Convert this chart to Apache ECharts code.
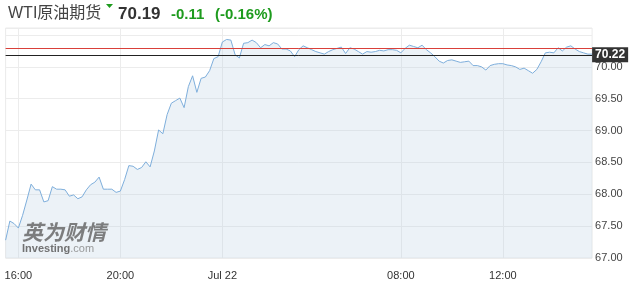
<!DOCTYPE html>
<html>
<head>
<meta charset="utf-8">
<script src="https://cdn.jsdelivr.net/npm/echarts@6/dist/echarts.min.js"></script>
<style>
html,body{margin:0;padding:0;background:#fff;}
#chart{width:635px;height:294px;}
</style>
</head>
<body>
<div id="chart"></div>
<script>
// ---- data ----
// 10-minute bars, 15:30 -> 04:50 then 06:00 -> 15:30 (daily trading break removed)
function buildTimes(){
  var out = [];
  var h = 15, m = 30;
  while (true) {
    out.push((h<10?'0':'')+h+':'+(m<10?'0':'')+m);
    if (h === 4 && m === 50) break;
    m += 10; if (m >= 60) { m = 0; h = (h + 1) % 24; }
  }
  h = 6; m = 0;
  while (true) {
    out.push((h<10?'0':'')+h+':'+(m<10?'0':'')+m);
    if (h === 15 && m === 30) break;
    m += 10; if (m >= 60) { m = 0; h += 1; }
  }
  return out;
}
var categories = buildTimes();

var prices = [
  67.28, 67.58, 67.54, 67.47, 67.67, 67.91, 68.16, 68.07, 68.07, 67.88,
  67.90, 68.12, 68.08, 68.08, 68.07, 67.97, 67.99, 67.93, 67.96, 68.07,
  68.15, 68.19, 68.27, 68.08, 68.08, 68.08, 68.03, 68.05, 68.23, 68.45,
  68.44, 68.39, 68.42, 68.51, 68.43, 68.68, 69.01, 68.95, 69.25, 69.43,
  69.47, 69.51, 69.36, 69.69, 69.86, 69.60, 69.82, 69.84, 69.94, 70.13,
  70.16, 70.39, 70.43, 70.42, 70.19, 70.14, 70.37, 70.38, 70.42, 70.38,
  70.30, 70.35, 70.33, 70.38, 70.36, 70.28, 70.28, 70.25, 70.16, 70.27,
  70.33, 70.30, 70.27, 70.24, 70.22, 70.20, 70.24, 70.27, 70.29, 70.31,
  70.21,
  70.30, 70.28, 70.24, 70.20, 70.24, 70.23, 70.24, 70.26, 70.25, 70.27,
  70.27, 70.26, 70.22, 70.29, 70.34, 70.32, 70.30, 70.34, 70.27, 70.22,
  70.16, 70.09, 70.06, 70.10, 70.11, 70.09, 70.07, 70.08, 70.09, 70.02,
  70.02, 70.00, 69.95, 70.02, 70.04, 70.05, 70.05, 70.03, 70.02, 70.00,
  69.96, 69.98, 69.94, 69.90, 69.96, 70.08, 70.22, 70.23, 70.22, 70.30,
  70.25, 70.31, 70.33, 70.28, 70.24, 70.22, 70.20, 70.20
];

var xTickLabels = {'16:00':'16:00', '20:00':'20:00', '00:00':'Jul 22', '08:00':'08:00', '12:00':'12:00'};
var yTicks = {min: 67, max: 70.61, step: 0.5};
var prevClose = 70.30;
var lastLine = 70.19;
var lastLabel = '70.22';
var header = {name: 'WTI原油期货', price: '70.19', change: '-0.11', pct: '(-0.16%)'};

// ---- chart ----
var chart = echarts.init(document.getElementById('chart'), null, {renderer: 'canvas'});
function isTick(idx){ return xTickLabels.hasOwnProperty(categories[idx]); }

var option = {
  animation: false,
  backgroundColor: '#fff',
  grid: {left: 5.6, right: 42.9, top: 28, bottom: 36, show: true, borderColor: '#ebebeb', borderWidth: 1, backgroundColor: 'transparent'},
  xAxis: {
    type: 'category',
    data: categories,
    boundaryGap: false,
    axisLine: {show: false},
    axisTick: {show: false},
    axisLabel: {
      interval: function(i){ return isTick(i); },
      formatter: function(v){ return xTickLabels[v] || ''; },
      color: '#333', fontSize: 11, margin: 12,
      fontFamily: 'Liberation Sans, Arial, sans-serif'
    },
    splitLine: {show: true, interval: function(i){ return isTick(i); }, lineStyle: {color: '#ececec', width: 1}}
  },
  yAxis: {
    type: 'value',
    position: 'right',
    min: yTicks.min, max: yTicks.max, interval: yTicks.step,
    axisLine: {show: false},
    axisTick: {show: false},
    axisLabel: {
      formatter: function(v){ return v > 70.01 ? '' : v.toFixed(2); },
      color: '#444', fontSize: 11, margin: 3,
      fontFamily: 'Liberation Sans, Arial, sans-serif'
    },
    splitLine: {show: true, lineStyle: {color: '#ececec', width: 1}}
  },
  series: [{
    type: 'line',
    data: prices,
    symbol: 'none',
    lineStyle: {color: '#7eaedb', width: 1},
    areaStyle: {color: 'rgba(190,210,228,0.42)'},
    markLine: {
      silent: true,
      symbol: 'none',
      animation: false,
      data: [
        {yAxis: prevClose, lineStyle: {color: '#d9403a', width: 1, type: 'solid'}, label: {show: false}},
        {yAxis: lastLine, lineStyle: {color: '#222', width: 1, type: 'solid'},
          label: {show: true, position: 'end', distance: 0, formatter: lastLabel,
            backgroundColor: '#333', color: '#fff', fontSize: 12, fontWeight: 'bold',
            padding: [2, 3, 1, 3], fontFamily: 'Liberation Sans, Arial, sans-serif'}}
      ]
    }
  }],
  graphic: [
    {type: 'text', left: 8, top: 6, style: {text: header.name, fill: '#444', font: '16px "Liberation Sans", "Noto Sans CJK SC", sans-serif'}},
    {type: 'polygon', shape: {points: [[106, 4], [113, 4], [109.5, 8]]}, style: {fill: '#1e9b1e'}},
    {type: 'text', left: 118, top: 6, style: {text: header.price, fill: '#333', font: 'bold 17px "Liberation Sans", Arial, sans-serif'}},
    {type: 'text', left: 171, top: 7, style: {text: header.change, fill: '#1e9b1e', font: 'bold 15px "Liberation Sans", Arial, sans-serif'}},
    {type: 'text', left: 215, top: 7, style: {text: header.pct, fill: '#1e9b1e', font: 'bold 15px "Liberation Sans", Arial, sans-serif'}},
    {type: 'text', left: 22, top: 222, z: 100, style: {text: '英为财情', fill: 'rgba(105,105,105,0.85)', font: 'italic bold 21px "Noto Sans CJK SC", sans-serif'}},
    {type: 'text', left: 22, top: 243, z: 100, style: {
      text: '{a|Investing}{b|.com}',
      rich: {
        a: {fill: 'rgba(100,100,100,0.9)', font: 'bold 11px "Liberation Sans", Arial, sans-serif'},
        b: {fill: 'rgba(130,130,130,0.8)', font: '11px "Liberation Sans", Arial, sans-serif'}
      }
    }}
  ]
};
chart.setOption(option);
</script>
</body>
</html>
